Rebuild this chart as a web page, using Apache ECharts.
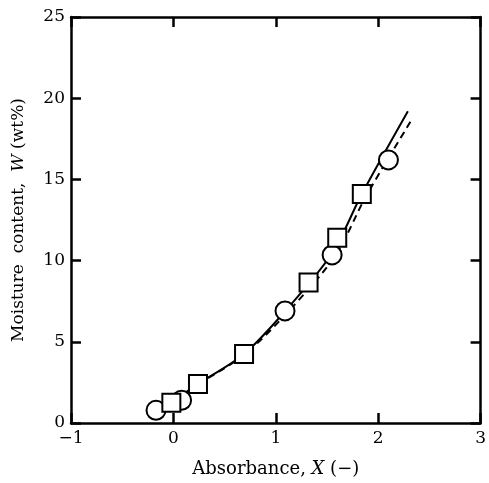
<!DOCTYPE html>
<html><head><meta charset="utf-8">
<script src="https://cdn.jsdelivr.net/npm/echarts@6/dist/echarts.min.js"></script>
<style>html,body{margin:0;padding:0;background:#fff}#c{width:489px;height:483px}</style>
</head><body><div id="c"></div>
<script>
var circlePts = [[-0.17,0.78],[0.08,1.4],[1.09,6.9],[1.55,10.35],[2.10,16.2]];
var squarePts = [[-0.02,1.25],[0.24,2.4],[0.69,4.25],[1.32,8.65],[1.60,11.4],[1.84,14.1]];
var solidCurve = [[-0.05,1.15],[0.24,2.4],[0.69,4.25],[1.10,6.95],[1.55,10.45],[1.84,14.1],[2.29,19.2]];
var dashedCurve = [[-0.05,1.15],[0.24,2.38],[0.69,4.2],[1.12,6.85],[1.58,10.3],[1.88,13.95],[2.32,18.6]];
var xTitleParts = ['Absorbance, ', 'X', ' (\u2212)'];
var yTitleParts = ['Moisture  content,  ', 'W', ' (wt%)'];

var font = '"DejaVu Serif","Liberation Serif",serif';
var chart = echarts.init(document.getElementById('c'));
var axisLine = {show:true, onZero:false, lineStyle:{color:'#000', width:2.5}};
var tick = {show:true, inside:true, length:10, lineStyle:{color:'#000', width:2.5}};
function richName(p){return '{a|'+p[0]+'}{i|'+p[1]+'}{a|'+p[2]+'}';}
function nameStyle(sz){return {color:'#000', fontFamily:font, fontSize:sz,
  rich:{a:{fontFamily:font, fontSize:sz, color:'#000'}, i:{fontFamily:font, fontSize:sz, fontStyle:'italic', color:'#000'}}};}
chart.setOption({
  animation:false,
  backgroundColor:'#fff',
  grid:{left:71, right:3, top:17, bottom:52},
  xAxis:[
    {type:'value', min:-1, max:3, interval:1, position:'bottom',
     axisLine:axisLine, axisTick:tick, splitLine:{show:false},
     axisLabel:{color:'#000', fontFamily:font, fontSize:17, margin:7,
       formatter:function(v){return v<0?'\u2212'+Math.abs(v):String(v);}},
     name:richName(xTitleParts), nameLocation:'middle', nameGap:37,
     nameTextStyle:nameStyle(18)},
    {type:'value', min:-1, max:3, interval:1, position:'top',
     axisLine:axisLine, axisTick:tick, splitLine:{show:false}, axisLabel:{show:false}}
  ],
  yAxis:[
    {type:'value', min:0, max:25, interval:5, position:'left',
     axisLine:axisLine, axisTick:tick, splitLine:{show:false},
     axisLabel:{color:'#000', fontFamily:font, fontSize:17, margin:6},
     name:richName(yTitleParts), nameLocation:'middle', nameGap:44, nameRotate:90,
     nameTextStyle:nameStyle(17)},
    {type:'value', min:0, max:25, interval:5, position:'right',
     axisLine:axisLine, axisTick:tick, splitLine:{show:false}, axisLabel:{show:false}}
  ],
  series:[
    {type:'line', data:solidCurve, smooth:0.3, symbol:'none', z:1,
     lineStyle:{color:'#000', width:2}},
    {type:'line', data:dashedCurve, smooth:0.3, symbol:'none', z:1,
     lineStyle:{color:'#000', width:2, type:[7,5]}},
    {type:'scatter', data:circlePts, symbol:'circle', symbolSize:19, z:3,
     itemStyle:{color:'#fff', borderColor:'#000', borderWidth:2, opacity:1}},
    {type:'scatter', data:squarePts, symbol:'rect', symbolSize:18, z:3,
     itemStyle:{color:'#fff', borderColor:'#000', borderWidth:2, opacity:1}}
  ]
});
</script></body></html>
